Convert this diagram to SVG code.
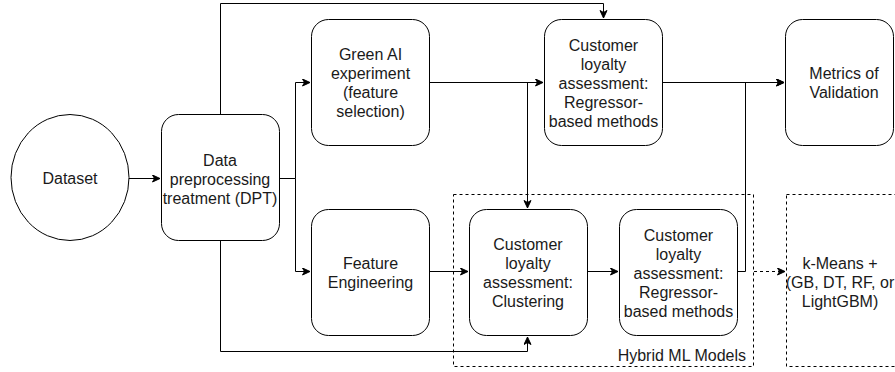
<svg xmlns="http://www.w3.org/2000/svg" width="895" height="372" viewBox="0 0 895 372">
<style>
  .box { fill: #ffffff; stroke: #000000; stroke-width: 1; }
  .grp { fill: none; stroke: #000000; stroke-width: 1; stroke-dasharray: 3 3; }
  .lbl { font-family: "Liberation Sans", Arial, sans-serif; font-size: 16px; fill: #1a1a1a; text-anchor: middle; }
  .edge { fill: none; stroke: #000000; stroke-width: 1; }
  .dash { stroke-dasharray: 3 3; }
</style>
<defs>
  <marker id="arr" markerUnits="userSpaceOnUse" markerWidth="10" markerHeight="10" refX="8" refY="4" orient="auto">
    <path d="M0.5,0.5 L8,4 L0.5,7.5 L2.5,4 Z" fill="#000000" stroke="#000000" stroke-width="1"/>
  </marker>
</defs>
<rect width="895" height="372" fill="#ffffff"/>

<g id="hybrid-group">
  <rect class="grp" x="453.5" y="194.5" width="300" height="172"/>
  <text class="lbl" x="746" y="361" style="text-anchor:end">Hybrid ML Models</text>
</g>
<g id="kmeans-group">
  <rect class="grp" x="786.5" y="194.5" width="130" height="172"/>
  <text class="lbl" x="840" y="268.5">k-Means +</text>
  <text class="lbl" x="840" y="287.5">(GB, DT, RF, or</text>
  <text class="lbl" x="840" y="306.5">LightGBM)</text>
</g>

<g id="connectors">
  <path class="edge" d="M129,178.5 H160" marker-end="url(#arr)"/>
  <path class="edge" d="M220.5,114 V3.5 H603.5 V18" marker-end="url(#arr)"/>
  <path class="edge" d="M279,178.5 H295.5 V82.5 H310" marker-end="url(#arr)"/>
  <path class="edge" d="M295.5,178.5 V271.5 H310" marker-end="url(#arr)"/>
  <path class="edge" d="M430,82.5 H543" marker-end="url(#arr)"/>
  <path class="edge" d="M527.5,82.5 V208" marker-end="url(#arr)"/>
  <path class="edge" d="M663,82.5 H784" marker-end="url(#arr)"/>
  <path class="edge" d="M738,271.5 H745.5 V82.5 H784" marker-end="url(#arr)"/>
  <path class="edge" d="M430,271.5 H468" marker-end="url(#arr)"/>
  <path class="edge" d="M587,271.5 H618" marker-end="url(#arr)"/>
  <path class="edge" d="M220.5,241 V351.5 H527.5 V337" marker-end="url(#arr)"/>
  <path class="edge dash" d="M754,271.5 H785" marker-end="url(#arr)"/>
</g>

<g id="dataset">
  <ellipse class="box" cx="70" cy="177.5" rx="59" ry="63"/>
  <text class="lbl" x="70" y="184">Dataset</text>
</g>
<g id="dpt">
  <rect class="box" x="161.5" y="114.5" width="118" height="126" rx="17"/>
  <text class="lbl" x="220" y="166">Data</text>
  <text class="lbl" x="220" y="185">preprocessing</text>
  <text class="lbl" x="220" y="204">treatment (DPT)</text>
</g>
<g id="green-ai">
  <rect class="box" x="311.5" y="19.5" width="118" height="126" rx="17"/>
  <text class="lbl" x="370.5" y="60">Green AI</text>
  <text class="lbl" x="370.5" y="79">experiment</text>
  <text class="lbl" x="370.5" y="98">(feature</text>
  <text class="lbl" x="370.5" y="117">selection)</text>
</g>
<g id="regressor-top">
  <rect class="box" x="544.5" y="19.5" width="118" height="126" rx="17"/>
  <text class="lbl" x="603.5" y="51">Customer</text>
  <text class="lbl" x="603.5" y="70">loyalty</text>
  <text class="lbl" x="603.5" y="89">assessment:</text>
  <text class="lbl" x="603.5" y="108">Regressor-</text>
  <text class="lbl" x="603.5" y="127">based methods</text>
</g>
<g id="metrics">
  <rect class="box" x="785.5" y="19.5" width="108" height="126" rx="17"/>
  <text class="lbl" x="844" y="79">Metrics of</text>
  <text class="lbl" x="844" y="98">Validation</text>
</g>
<g id="feature-engineering">
  <rect class="box" x="311.5" y="209.5" width="118" height="126" rx="17"/>
  <text class="lbl" x="370.5" y="269">Feature</text>
  <text class="lbl" x="370.5" y="288">Engineering</text>
</g>
<g id="clustering">
  <rect class="box" x="469.5" y="209.5" width="118" height="126" rx="17"/>
  <text class="lbl" x="528" y="250">Customer</text>
  <text class="lbl" x="528" y="269">loyalty</text>
  <text class="lbl" x="528" y="288">assessment:</text>
  <text class="lbl" x="528" y="307">Clustering</text>
</g>
<g id="regressor-bottom">
  <rect class="box" x="619.5" y="209.5" width="118" height="126" rx="17"/>
  <text class="lbl" x="678.5" y="241">Customer</text>
  <text class="lbl" x="678.5" y="260">loyalty</text>
  <text class="lbl" x="678.5" y="279">assessment:</text>
  <text class="lbl" x="678.5" y="298">Regressor-</text>
  <text class="lbl" x="678.5" y="317">based methods</text>
</g>
</svg>
